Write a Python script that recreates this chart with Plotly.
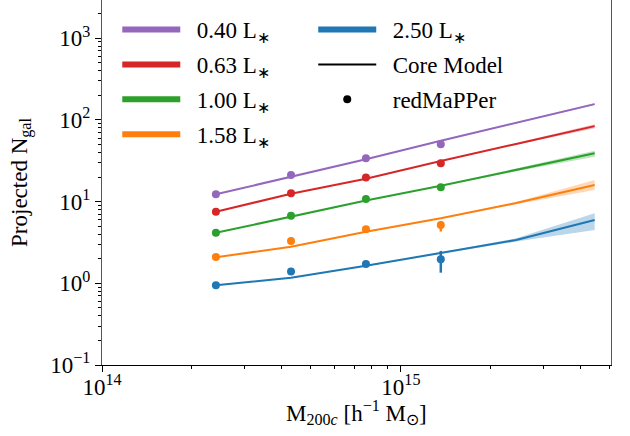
import plotly.graph_objects as go

# ---------------- data ----------------
mass = [2.405e14, 4.29e14, 7.64e14, 1.36e15, 2.43e15, 4.45e15]
obs_mass = mass[:4]

labels = ["0.40 L<sub>∗</sub>", "0.63 L<sub>∗</sub>", "1.00 L<sub>∗</sub>",
          "1.58 L<sub>∗</sub>", "2.50 L<sub>∗</sub>"]
colors = ["#9467bd", "#d62728", "#2ca02c", "#ff7f0e", "#1f77b4"]
fills = ["rgba(148,103,189,0.3)", "rgba(214,39,40,0.3)", "rgba(44,160,44,0.3)",
         "rgba(255,127,14,0.3)", "rgba(31,119,180,0.3)"]

model_040 = [12.3, 20.0, 33.0, 55.6, 91.4, 156.0]
model_063 = [7.5, 12.5, 19.0, 31.5, 50.8, 84.0]
model_100 = [4.15, 6.5, 10.3, 15.6, 24.4, 39.0]
model_158 = [2.08, 2.81, 4.28, 6.24, 9.6, 16.0]
model_250 = [0.95, 1.17, 1.64, 2.34, 3.39, 5.95]

lo_040 = [12.2, 19.8, 32.7, 54.9, 89.6, 152.0]
hi_040 = [12.4, 20.2, 33.3, 56.3, 93.2, 161.0]
lo_063 = [7.45, 12.4, 18.85, 31.2, 49.5, 79.0]
hi_063 = [7.55, 12.6, 19.15, 31.8, 52.0, 88.3]
lo_100 = [4.12, 6.45, 10.25, 15.4, 23.6, 35.5]
hi_100 = [4.18, 6.55, 10.35, 15.8, 25.2, 41.8]
lo_158 = [2.07, 2.79, 4.25, 6.15, 9.3, 13.9]
hi_158 = [2.09, 2.83, 4.31, 6.33, 9.9, 18.4]
lo_250 = [0.945, 1.16, 1.62, 2.30, 3.24, 4.5]
hi_250 = [0.955, 1.18, 1.66, 2.38, 3.55, 7.2]

obs_040 = [12.3, 21.2, 33.9, 50.3]
obs_063 = [7.5, 12.7, 19.8, 29.4]
obs_100 = [4.16, 6.72, 10.8, 15.0]
obs_158 = [2.10, 3.29, 4.58, 5.17]
obs_250 = [0.95, 1.39, 1.72, 1.97]

errp_040 = [0.3, 0.5, 0.8, 1.5]
errm_040 = [0.3, 0.5, 0.8, 1.5]
errp_063 = [0.2, 0.3, 0.5, 1.0]
errm_063 = [0.2, 0.3, 0.5, 1.0]
errp_100 = [0.1, 0.15, 0.3, 0.6]
errm_100 = [0.1, 0.15, 0.3, 0.6]
errp_158 = [0.05, 0.1, 0.15, 0.63]
errm_158 = [0.05, 0.1, 0.15, 0.87]
errp_250 = [0.03, 0.05, 0.08, 0.52]
errm_250 = [0.03, 0.05, 0.08, 0.62]

models = [model_040, model_063, model_100, model_158, model_250]
los = [lo_040, lo_063, lo_100, lo_158, lo_250]
his = [hi_040, hi_063, hi_100, hi_158, hi_250]
obss = [obs_040, obs_063, obs_100, obs_158, obs_250]
errps = [errp_040, errp_063, errp_100, errp_158, errp_250]
errms = [errm_040, errm_063, errm_100, errm_158, errm_250]

y_tickvals = [0.1, 1, 10, 100, 1000]
y_ticktext = ["10<sup>−1</sup>", "10<sup>0</sup>", "10<sup>1</sup>",
              "10<sup>2</sup>", "10<sup>3</sup>"]
x_tickvals = [1e14, 1e15]
x_ticktext = ["10<sup>14</sup>", "10<sup>15</sup>"]

x_title = "M<sub>200<i>c</i></sub> [h<sup>−1</sup> M<sub>⊙</sub>]"
y_title = "Projected N<sub>gal</sub>"

FONT = "Liberation Serif"
NB = "\u00a0\u00a0"

fig = go.Figure()

for i in range(5):
    fig.add_trace(go.Scatter(x=mass, y=his[i], mode="lines", line=dict(width=0),
                             showlegend=False, hoverinfo="skip"))
    fig.add_trace(go.Scatter(x=mass, y=los[i], mode="lines", line=dict(width=0),
                             fill="tonexty", fillcolor=fills[i],
                             showlegend=False, hoverinfo="skip"))
    fig.add_trace(go.Scatter(x=mass, y=models[i], mode="lines",
                             line=dict(color=colors[i], width=2),
                             showlegend=False))
    fig.add_trace(go.Scatter(x=obs_mass, y=obss[i], mode="markers",
                             marker=dict(color=colors[i], size=8),
                             error_y=dict(type="data", symmetric=False,
                                          array=errps[i], arrayminus=errms[i],
                                          color=colors[i], thickness=2.5, width=0),
                             showlegend=False))

# legend entries
for i in range(5):
    fig.add_trace(go.Scatter(x=[None], y=[None], mode="lines",
                             line=dict(color=colors[i], width=6),
                             name=NB + labels[i], legendgroup=f"g{i}",
                             legend="legend" if i < 4 else "legend2"))
fig.add_trace(go.Scatter(x=[None], y=[None], mode="lines",
                         line=dict(color="black", width=2),
                         name=NB + "Core Model", legendgroup="g5", legend="legend2"))
fig.add_trace(go.Scatter(x=[None], y=[None], mode="markers",
                         marker=dict(color="black", size=8),
                         name=NB + "redMaPPer", legendgroup="g6", legend="legend2"))

minor_x = [k * 1e14 for k in range(2, 10)] + [k * 1e15 for k in range(2, 6)]
minor_y = []
for e in [0.1, 1, 10, 100, 1000]:
    for k in range(2, 10):
        minor_y.append(k * e)

leg_common = dict(font=dict(family=FONT, size=23, color="black"),
                  bgcolor="rgba(0,0,0,0)", borderwidth=0,
                  traceorder="grouped", tracegroupgap=2,
                  itemwidth=58, xanchor="left", yanchor="top")

fig.update_layout(
    width=630, height=436,
    margin=dict(l=102, r=19, t=0, b=71),
    paper_bgcolor="white", plot_bgcolor="white",
    font=dict(family=FONT, size=22, color="black"),
    legend=dict(x=0.03, y=0.978, **leg_common),
    legend2=dict(x=0.415, y=0.978, **leg_common),
    xaxis=dict(type="log", range=[14, 15.703],
               tickvals=x_tickvals, ticktext=x_ticktext,
               ticks="outside", ticklen=6, tickwidth=1, tickcolor="black",
               ticklabelstandoff=-5,
               minor=dict(tickvals=minor_x, ticks="outside", ticklen=3,
                          tickcolor="black", showgrid=False),
               showline=True, linecolor="black", linewidth=1, mirror=False,
               showgrid=False, zeroline=False,
               tickfont=dict(family=FONT, size=23)),
    yaxis=dict(type="log", range=[-1, 3.468],
               tickvals=y_tickvals, ticktext=y_ticktext,
               ticks="outside", ticklen=6, tickwidth=1, tickcolor="black",
               minor=dict(tickvals=minor_y, ticks="outside", ticklen=3,
                          tickcolor="black", showgrid=False),
               showline=True, linecolor="#555", linewidth=1.2, mirror=True,
               showgrid=False, zeroline=False,
               tickfont=dict(family=FONT, size=23),
               title=dict(text=y_title, font=dict(family=FONT, size=23), standoff=16)),
    annotations=[dict(text=x_title, xref="paper", yref="paper", x=0.5, y=-0.13,
                      xanchor="center", yanchor="middle", showarrow=False,
                      font=dict(family=FONT, size=23, color="black"))],
)

fig.write_html("out.html", config={"displayModeBar": False},
               post_script="document.body.style.margin='0';")
